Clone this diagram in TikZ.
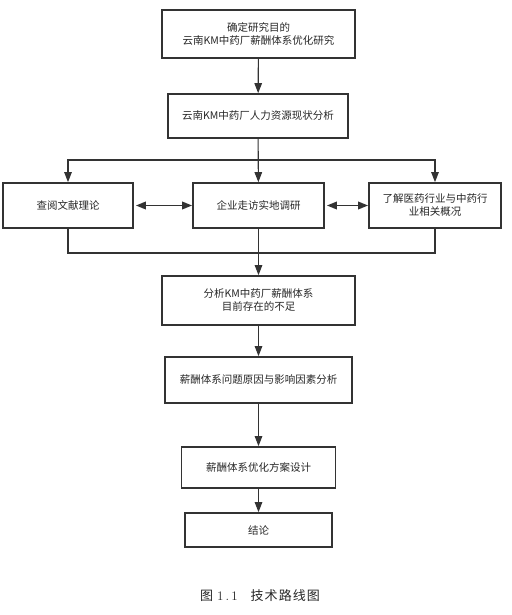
\documentclass[tikz,border=0pt]{standalone}
\usepackage{fontspec}
\newfontfamily\cjk{Noto Sans CJK SC}
\usetikzlibrary{arrows.meta}
\definecolor{linegray}{HTML}{333333}
\begin{document}
\begin{tikzpicture}[x=1pt,y=-1pt,>={Triangle[length=10pt,width=7.5pt]},
  stepbox/.style={draw=linegray,line width=1.7pt,align=center,inner sep=0pt,
    font=\cjk\fontsize{10.5}{13}\selectfont,text=black!85},
  flow/.style={draw=linegray,line width=1.1pt}]
\useasboundingbox (0,0) rectangle (511,615);
% main column
\node[stepbox,minimum width=193pt,minimum height=48pt] (aim) at (258.5,34) {确定研究目的\\云南KM中药厂薪酬体系优化研究};
\node[stepbox,minimum width=180pt,minimum height=44pt] (hr) at (258,116) {云南KM中药厂人力资源现状分析};
% three methods
\node[stepbox,minimum width=130pt,minimum height=45pt] (lit) at (68,205.5) {查阅文献理论};
\node[stepbox,minimum width=131pt,minimum height=45pt] (visit) at (258.5,205.5) {企业走访实地调研};
\node[stepbox,minimum width=132pt,minimum height=45pt] (ind) at (435,205.5) {了解医药行业与中药行\\业相关概况};
\node[stepbox,minimum width=193pt,minimum height=49pt] (lack) at (258.5,300.5) {分析KM中药厂薪酬体系\\目前存在的不足};
\node[stepbox,minimum width=187pt,minimum height=46pt] (cause) at (258.5,380) {薪酬体系问题原因与影响因素分析};
\node[stepbox,minimum width=154pt,minimum height=41pt] (plan) at (258.5,467.5) {薪酬体系优化方案设计};
\node[stepbox,minimum width=147pt,minimum height=34pt] (end) at (258.5,530) {结论};
\coordinate (split) at (258.5,160);
\coordinate (merge) at (258.5,253);
% connectors
\draw[flow,->] (aim) -- (hr);
\draw[flow,->] (hr) -- (visit);
\draw[flow,->] (split) -| (lit);
\draw[flow,->] (split) -| (ind);
\draw[flow,<->,line width=1.8pt,shorten <=2pt] (lit) -- (visit);
\draw[flow,<->,line width=1.8pt,shorten <=2pt] (visit) -- (ind);
\draw[flow] (lit.south) |- (merge) -| (ind.south);
\draw[flow,->] (visit) -- (lack);
\draw[flow,->] (lack) -- (cause);
\draw[flow,->] (cause) -- (plan);
\draw[flow,->] (plan) -- (end);
\node[font=\cjk\fontsize{13}{15}\selectfont,text=black!85] (cap) at (260,596) {\addfontfeature{LetterSpace=8}图\ \rmfamily 1\,.\,1\quad\cjk\addfontfeature{LetterSpace=8}技术路线图};
\end{tikzpicture}
\end{document}
